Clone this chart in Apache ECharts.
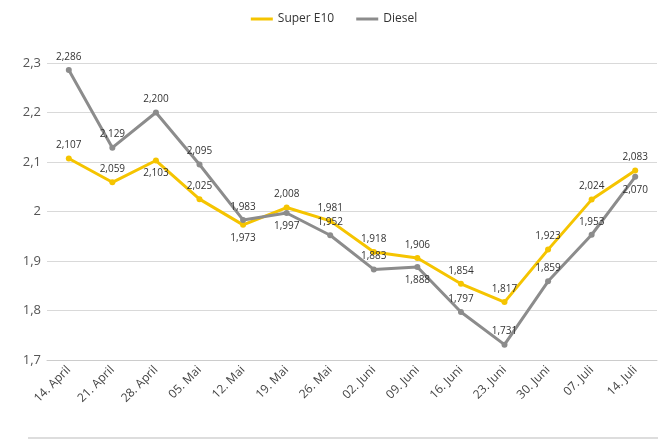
<!DOCTYPE html>
<html><head><meta charset="utf-8">
<script src="https://cdn.jsdelivr.net/npm/echarts@6/dist/echarts.min.js"></script>
<style>html,body{margin:0;background:#fff}#c{width:668px;height:445px}</style>
</head><body><div id="c"></div>
<script>
const weeks = ['14. April','21. April','28. April','05. Mai','12. Mai','19. Mai','26. Mai','02. Juni','09. Juni','16. Juni','23. Juni','30. Juni','07. Juli','14. Juli'];
const superE10 = [2.107,2.059,2.103,2.025,1.973,2.008,1.981,1.918,1.906,1.854,1.817,1.923,2.024,2.083];
const diesel = [2.286,2.129,2.200,2.095,1.983,1.997,1.952,1.883,1.888,1.797,1.731,1.859,1.953,2.070];
const e10Pos = ['top','top','bottom','top','bottom','top','top','top','top','top','top','top','top','top'];
const dieselPos = ['top','top','top','top','top','bottom','top','top','bottom','top','top','top','top','bottom'];

const fmt = v => v.toFixed(3).replace('.', ',');
function pts(vals, pos) {
  return vals.map((v, i) => ({ value: v, label: { position: pos[i] } }));
}
const chart = echarts.init(document.getElementById('c'));
chart.setOption({
  textStyle: { fontFamily: 'Open Sans' },
  legend: { top: 8, itemWidth: 22, itemHeight: 3, icon: 'rect', itemGap: 22,
    textStyle: { fontSize: 12, color: '#333' } },
  grid: { left: 47, right: 11, top: 63, bottom: 85 },
  xAxis: { type: 'category', data: weeks, boundaryGap: true,
    axisLine: { lineStyle: { color: '#ccc' } }, axisTick: { show: false },
    axisLabel: { rotate: 45, color: '#444', fontSize: 12, interval: 0 } },
  yAxis: { type: 'value', min: 1.7, max: 2.3, interval: 0.1,
    axisLine: { show: false }, axisTick: { show: false },
    splitLine: { lineStyle: { color: '#d9d9d9' } },
    axisLabel: { color: '#555', fontSize: 13, margin: 6, formatter: v => String(+v.toFixed(1)).replace('.', ',') } },
  graphic: [{ type: 'line', shape: { x1: 28, y1: 438, x2: 658, y2: 438 }, style: { stroke: '#bbb', lineWidth: 1 } }],
  series: [
    { name: 'Super E10', type: 'line', data: pts(superE10, e10Pos), color: '#f5c400',
      symbol: 'circle', symbolSize: 6, lineStyle: { width: 3 },
      label: { show: true, fontSize: 10, color: '#333', formatter: p => fmt(p.value) } },
    { name: 'Diesel', type: 'line', data: pts(diesel, dieselPos), color: '#8c8c8c',
      symbol: 'circle', symbolSize: 6, lineStyle: { width: 3 },
      label: { show: true, fontSize: 10, color: '#333', formatter: p => fmt(p.value) } }
  ]
});
</script></body></html>
